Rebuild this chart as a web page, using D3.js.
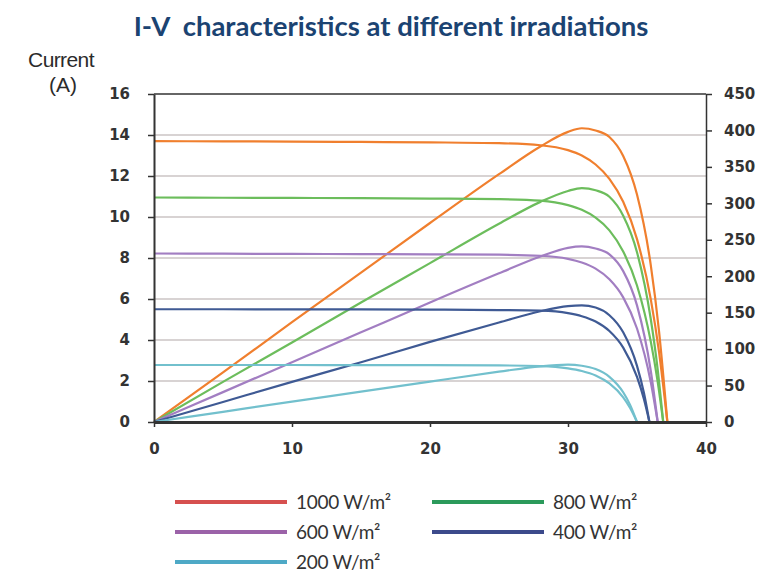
<!DOCTYPE html>
<html><head><meta charset="utf-8">
<script src="https://cdn.jsdelivr.net/npm/d3@7"></script>
<style>
body{margin:0;background:#fff;}
svg{display:block;}
</style></head>
<body>
<svg id="chart" width="779" height="577"></svg>
<script>
// ---- data ----
const seriesNames = ["1000 W/m²", "800 W/m²", "600 W/m²", "400 W/m²", "200 W/m²"];
const volt1000 = [0,5,10,15,20,25,28,30,31,32,33,34,35,36,36.6,37.2];
const curr1000 = [13.7,13.69,13.68,13.66,13.64,13.6,13.5,13.26,13.0,12.56,11.86,10.74,8.92,5.98,3.4,0];
const pow1000  = [0,68,137,205,273,340,378,398,403,400,391,365,312,215,124,0];
const volt800 = [0,5,10,15,20,25,28,30,31,32,33,34,35,36,36.5,36.9];
const curr800 = [10.95,10.94,10.93,10.92,10.9,10.87,10.8,10.58,10.35,9.97,9.35,8.32,6.66,3.92,1.96,0];
const pow800  = [0,55,109,164,218,272,302,317,321,318,309,283,233,141,72,0];
const volt600 = [0,5,10,15,20,25,28,30,31,32,33,34,35,36,36.5];
const curr600 = [8.22,8.21,8.2,8.19,8.18,8.16,8.11,7.96,7.78,7.48,6.96,6.08,4.56,1.94,0];
const pow600  = [0,41,82,123,164,204,227,239,241,238,230,207,160,70,0];
const volt400 = [0,5,10,15,20,25,28,30,31,32,33,34,35,35.5,35.9];
const curr400 = [5.5,5.5,5.49,5.49,5.48,5.46,5.43,5.31,5.16,4.9,4.44,3.63,2.2,1.12,0];
const pow400  = [0,27.5,55,82,110,136.5,152,159,160,157,146.5,123,77,40,0];
const volt200 = [0,5,10,15,20,25,28,30,31,32,33,34,34.5,35];
const curr200 = [2.78,2.78,2.78,2.77,2.77,2.76,2.73,2.62,2.49,2.27,1.88,1.2,0.68,0];
const pow200  = [0,14,28,41.6,55.4,69,76.4,78.6,77.2,72.6,62,40.8,23.5,0];
const xTicks = [0,10,20,30,40];
const yLeftTicks = [0,2,4,6,8,10,12,14,16];
const yRightTicks = [0,50,100,150,200,250,300,350,400,450];
const curveColors = ["#f07f2e","#6cbd5c","#a27ec2","#3f5a94","#72c0cd"];
const legendColors = ["#d6504f","#2b9a5b","#9b62a8","#3c4a8b","#4ea9c6"];

// ---- build ----
const svg = d3.select("#chart");
const L = 154, R = 706, T = 94, B = 422;
const x = d3.scaleLinear().domain([0,40]).range([L,R]);
const yI = d3.scaleLinear().domain([0,16]).range([B,T]);
const yP = d3.scaleLinear().domain([0,450]).range([B,T]);

const series = [
  {v:volt1000,i:curr1000,p:pow1000},
  {v:volt800,i:curr800,p:pow800},
  {v:volt600,i:curr600,p:pow600},
  {v:volt400,i:curr400,p:pow400},
  {v:volt200,i:curr200,p:pow200}
];

// title
svg.append("text").attr("x",391).attr("y",36).attr("text-anchor","middle")
  .attr("font-family","Lato, 'Open Sans', sans-serif").attr("font-weight","bold")
  .attr("font-size",27.5).attr("fill","#1b4372").style("white-space","pre")
  .text("I-V  characteristics at different irradiations");

svg.append("text").attr("x",61).attr("y",67).attr("text-anchor","middle")
  .attr("font-family","'Liberation Sans', Arial, sans-serif").attr("font-size",21)
  .attr("fill","#2b2b2b").attr("letter-spacing","-0.6").text("Current");
svg.append("text").attr("x",63).attr("y",92).attr("text-anchor","middle")
  .attr("font-family","'Liberation Sans', Arial, sans-serif").attr("font-size",21)
  .attr("fill","#2b2b2b").text("(A)");

// gridlines
svg.append("g").selectAll("line").data(yLeftTicks.filter(d=>d>0 && d<16)).join("line")
  .attr("x1",L).attr("x2",R).attr("y1",d=>yI(d)).attr("y2",d=>yI(d))
  .attr("stroke","#cbc4c4").attr("stroke-width",1.5);

// top frame
svg.append("line").attr("x1",L).attr("x2",R).attr("y1",T).attr("y2",T)
  .attr("stroke","#333").attr("stroke-width",1.5);

// curves
const lineI = d3.line().x(d=>x(d[0])).y(d=>yI(d[1])).curve(d3.curveMonotoneX);
const lineP = d3.line().x(d=>x(d[0])).y(d=>yP(d[1])).curve(d3.curveMonotoneX);
const cg = svg.append("g");
series.forEach((s,k)=>{
  const di = s.v.map((v,j)=>[v,s.i[j]]);
  const dp = s.v.map((v,j)=>[v,s.p[j]]);
  cg.append("path").attr("d",lineI(di)).attr("fill","none")
    .attr("stroke",curveColors[k]).attr("stroke-width",2.2);
  cg.append("path").attr("d",lineP(dp)).attr("fill","none")
    .attr("stroke",curveColors[k]).attr("stroke-width",2.2);
});

const tickFont = "'DejaVu Sans', sans-serif";
function styleAxis(g){
  g.selectAll(".domain").attr("stroke","#333").attr("stroke-width",2);
  g.selectAll(".tick line").attr("stroke","#333").attr("stroke-width",1.5);
  g.selectAll(".tick text").attr("font-family",tickFont).attr("font-weight","bold")
    .attr("font-size",15).attr("fill","#333");
}
// left axis
const gl = svg.append("g").attr("transform",`translate(${L},0)`)
  .call(d3.axisLeft(yI).tickValues(yLeftTicks).tickSize(6).tickSizeOuter(0).tickPadding(18));
styleAxis(gl);
// right axis
const gr = svg.append("g").attr("transform",`translate(${R},0)`)
  .call(d3.axisRight(yP).tickValues(yRightTicks).tickSize(6).tickSizeOuter(0).tickPadding(12));
styleAxis(gr);
gr.selectAll(".domain").attr("stroke-width",1.5);
// bottom axis
const gb = svg.append("g").attr("transform",`translate(0,${B})`)
  .call(d3.axisBottom(x).tickValues(xTicks).tickSize(5).tickSizeOuter(0).tickPadding(16));
styleAxis(gb);
gb.selectAll(".domain").attr("stroke-width",3);

// legend
const legPos = [[175,502],[432,502],[175,532],[432,532],[175,562]];
const lg = svg.append("g");
seriesNames.forEach((name,k)=>{
  const [lx,ly] = legPos[k];
  lg.append("line").attr("x1",lx).attr("x2",lx+112).attr("y1",ly).attr("y2",ly)
    .attr("stroke",legendColors[k]).attr("stroke-width",4);
  lg.append("text").attr("x",lx+121).attr("y",ly+7)
    .attr("font-family","Lato, sans-serif").attr("font-size",19).attr("fill","#333")
    .attr("letter-spacing","-0.3").text(name);
});
</script>
</body></html>
